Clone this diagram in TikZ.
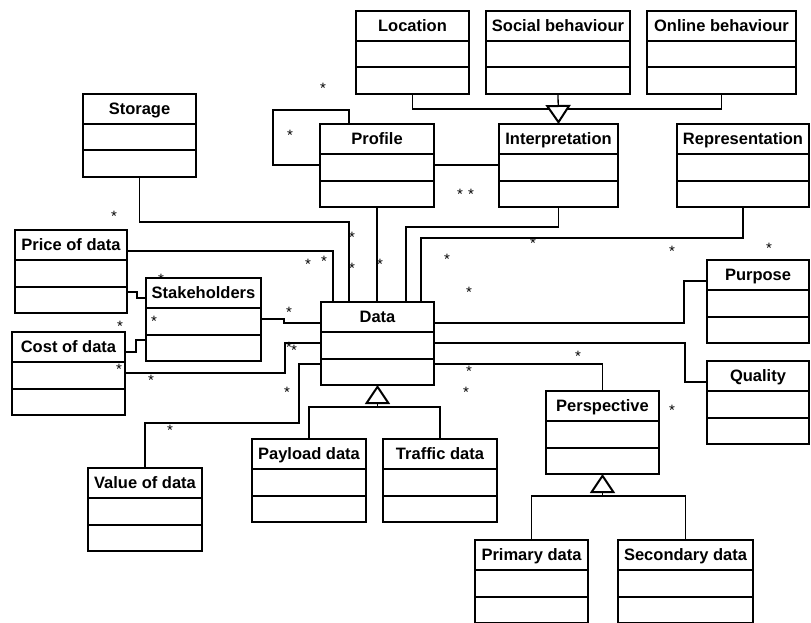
\documentclass[tikz,border=0pt]{standalone}
\usepackage{fontspec}
\setmainfont{Liberation Sans}
\usetikzlibrary{calc,arrows.meta}
\newcommand{\umlclass}[5]{%
  \node[clsbox, minimum width=#4pt, anchor=north west] (#1) at (#2,#3) {};
  \node[clstitle] (#1-t) at ($(#1.north)+(0,15)$) {#5};
  \draw[clsline] ($(#1.north west)+(0,30)$) -- ($(#1.north east)+(0,30)$);
  \draw[clsline] ($(#1.north west)+(0,56.5)$) -- ($(#1.north east)+(0,56.5)$);
}
\begin{document}
\begin{tikzpicture}[x=1pt,y=-1pt,
  clsbox/.style={draw, line width=2.1pt, fill=white, minimum height=83pt, inner sep=0pt, outer sep=0pt},
  clsline/.style={line width=2pt},
  clstitle/.style={font=\bfseries\fontsize{16.5}{18}\selectfont, inner sep=0pt, text height=11.8pt, text depth=0pt},
  conn/.style={line width=1.3pt},
  gen/.style={line width=1.3pt, -{Triangle[length=19pt,width=25pt,fill=white,line width=2pt]}},
  mstar/.style={font=\fontsize{15}{16}\selectfont, inner sep=0pt, yshift=-3.2pt}
]
\fill[white] (0,0) rectangle (811,623);
\useasboundingbox (0,0) rectangle (811,623);

% classes
\umlclass{loc}{356}{11}{113}{Location}
\umlclass{soc}{486}{11}{144}{Social behaviour}
\umlclass{onl}{647}{11}{149}{Online behaviour}
\umlclass{prof}{320}{124}{114}{Profile}
\umlclass{interp}{499}{124}{119}{Interpretation}
\umlclass{repr}{677}{124}{132}{Representation}
\umlclass{stor}{83}{94}{113}{Storage}
\umlclass{price}{15}{230}{112}{Price of data}
\umlclass{stake}{146}{278}{115}{Stakeholders}
\umlclass{cost}{12}{332}{113}{Cost of data}
\umlclass{data}{321}{302}{113}{Data}
\umlclass{val}{88}{468}{114}{Value of data}
\umlclass{purp}{707}{260}{102}{Purpose}
\umlclass{qual}{707}{361}{102}{Quality}
\umlclass{persp}{546}{391}{113}{Perspective}
\umlclass{pay}{252}{439}{114}{Payload data}
\umlclass{traf}{383}{439}{114}{Traffic data}
\umlclass{prim}{475}{540}{113}{Primary data}
\umlclass{sec}{618}{540}{135}{Secondary data}

% associations
\draw[conn] (stor.south) |- (349,222) -- (349,0 |- data.north);
\draw[conn] (price.east |- 0,251) -- (333,251) -- (333,0 |- data.north);
\draw[conn] (prof.south) -- (prof.south |- data.north);
\draw[conn] (interp.south) |- (406,227) -- (406,0 |- data.north);
\draw[conn] (repr.south) |- (421,238) -- (421,0 |- data.north);
\draw[conn] (prof.east |- 0,165) -- (interp.west |- 0,165);
\draw[conn] (349,0 |- prof.north) |- (273,110) |- (prof.west |- 0,165);
\draw[conn] (stake.east |- 0,319) -- (284,319) -- (284,323) -- (data.west |- 0,323);
\draw[conn] (cost.east |- 0,373) -- (285,373) -- (285,343) -- (data.west |- 0,343);
\draw[conn] (val.north) |- (299,423) -- (299,364) -- (data.west |- 0,364);
\draw[conn] (price.east |- 0,292) -- (137,292) -- (137,298) -- (stake.west |- 0,298);
\draw[conn] (cost.east |- 0,352) -- (136,352) -- (136,340) -- (stake.west |- 0,340);
\draw[conn] (data.east |- 0,323) -- (684,323) -- (684,281) -- (purp.west |- 0,281);
\draw[conn] (data.east |- 0,343) -- (685,343) -- (685,382) -- (qual.west |- 0,382);
\draw[conn] (data.east |- 0,364) -| (persp.north);

% generalizations
\draw[conn] (loc.south) -- (loc.south |- 0,109) -- (onl.south |- 0,109) -- (onl.south);
\draw[gen] (soc.south) -- (interp.north);
\draw[conn] (pay.north) -- (pay.north |- 0,407) -- (traf.north |- 0,407) -- (traf.north);
\draw[gen] (data.south |- 0,407) -- (data.south);
\draw[conn] (prim.north) -- (prim.north |- 0,496) -- (sec.north |- 0,496) -- (sec.north);
\draw[gen] (persp.south |- 0,496) -- (persp.south);

% multiplicities
\node[mstar] (s1) at (323,85) {*};
\node[mstar] (s2) at (290,132) {*};
\node[mstar] (s3) at (460,191) {*};
\node[mstar] (s4) at (471,191) {*};
\node[mstar] (s5) at (114,213) {*};
\node[mstar] (s6) at (352,234) {*};
\node[mstar] (s7) at (352,265) {*};
\node[mstar] (s8) at (380,261) {*};
\node[mstar] (s9) at (308,261) {*};
\node[mstar] (s10) at (324,258) {*};
\node[mstar] (s11) at (161,276) {*};
\node[mstar] (s12) at (154,318) {*};
\node[mstar] (s13) at (289,309) {*};
\node[mstar] (s14) at (120,323) {*};
\node[mstar] (s15) at (119,366) {*};
\node[mstar] (s16) at (151,377) {*};
\node[mstar] (s17) at (289,344) {*};
\node[mstar] (s18) at (294,347) {*};
\node[mstar] (s19) at (170,427) {*};
\node[mstar] (s20) at (287,389) {*};
\node[mstar] (s21) at (533,240) {*};
\node[mstar] (s22) at (672,248) {*};
\node[mstar] (s23) at (769,245) {*};
\node[mstar] (s24) at (447,256) {*};
\node[mstar] (s25) at (469,289) {*};
\node[mstar] (s26) at (578,353) {*};
\node[mstar] (s27) at (469,368) {*};
\node[mstar] (s28) at (466,389) {*};
\node[mstar] (s29) at (672,407) {*};
\end{tikzpicture}
\end{document}
